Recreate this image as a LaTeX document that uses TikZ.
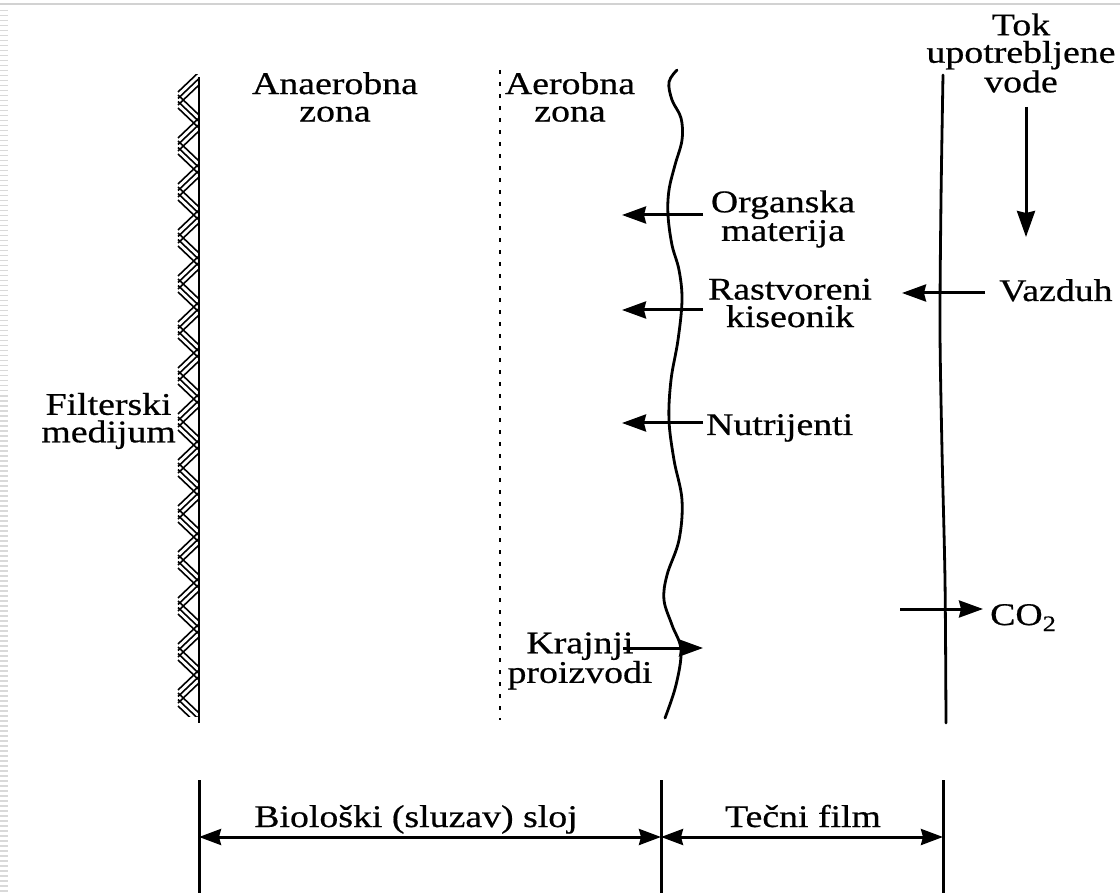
\documentclass[tikz,border=0pt]{standalone}
\usepackage{fontspec}
\setmainfont{Liberation Serif}[FakeStretch=1.2, FakeBold=0.6]
\usetikzlibrary{arrows.meta}

\begin{document}
\begin{tikzpicture}[x=1pt,y=-1pt,
  lbl/.style={font=\fontsize{31.5}{27.5}\selectfont, align=center, inner sep=0pt},
  flow/.style={line width=3pt, -{Stealth[length=24pt,width=17pt,inset=2pt]}},
  dim/.style={line width=3pt, {Stealth[length=22pt,width=16pt,inset=2pt]}-{Stealth[length=22pt,width=16pt,inset=2pt]}},
  wall/.style={line width=2.8pt, line cap=round},
  hatchline/.style={line width=1.6pt},
  tick/.style={line width=3pt}]
\useasboundingbox (0,0) rectangle (1120,893);

% page frame remnants
\draw[gray!35, line width=2.5pt] (0,4) -- (1120,4);
\draw[gray!30, line width=8pt, dash pattern=on 1.5pt off 3.5pt] (4,10) -- (4,893);

% filter medium: hatched wall
\begin{scope}
  \clip (177,75) rectangle (199,716);
  \foreach \k in {0,...,14} {
    \pgfmathsetmacro{\yy}{72+46*\k}
    \foreach \i in {0,1,2} {
      \draw[hatchline] (199,\yy+6.5*\i) -- (178,\yy+6.5*\i+20);
      \draw[hatchline] (178,\yy+23+6.5*\i) -- (199,\yy+23+6.5*\i+20);
    }
  }
\end{scope}
\coordinate (wallTop) at (199,77);
\coordinate (wallBot) at (199,723);
\draw[line width=2.2pt] (wallTop) -- (wallBot);

% boundary between anaerobic and aerobic zones
\coordinate (zoneTop) at (500,70);
\coordinate (zoneBot) at (500,720);
\draw[line width=2.2pt, dash pattern=on 4pt off 8pt] (zoneTop) -- (zoneBot);

% biofilm surface
\draw[wall] plot[smooth, tension=0.6] coordinates {
  (677,70) (669,82) (672,100) (681,118) (682,140) (675,165) (669,190)
  (668,215) (672,245) (679,270) (682,300) (678,340) (671,380) (669,420)
  (674,460) (682,500) (679,540) (667,575) (664,600) (672,625) (681,650)
  (676,685) (665,718)};

% liquid film surface
\draw[wall] plot[smooth] coordinates {
  (943,75) (941,200) (940,330) (942,450) (945,580) (946,723)};

% zone labels
\node[lbl] (anaer) at (335,97) {Anaerobna\\zona};
\node[lbl] (aer) at (570,97) {Aerobna\\zona};
\node[lbl, anchor=east] (filt) at (176,421) {Filterski\\medijum};
\node[lbl] (tok) at (1021,53) {Tok\\upotrebljene\\vode};

% substances crossing the film
\node[lbl] (org) at (783,219) {Organska\\materija};
\node[lbl] (rast) at (790,303) {Rastvoreni\\kiseonik};
\node[lbl, anchor=base west] (nutr) at (706,435) {Nutrijenti};
\node[lbl, anchor=base west] (vaz) at (999,301) {Vazduh};
\node[lbl, anchor=base west] (co2) at (990,625) {CO\textsubscript{2}};
\node[lbl] (kraj) at (580,661) {Krajnji\\proizvodi};

\coordinate (orgS) at (703,215);  \coordinate (orgE) at (622,215);
\coordinate (rastS) at (703,310); \coordinate (rastE) at (622,310);
\coordinate (nutrS) at (703,423); \coordinate (nutrE) at (622,423);
\coordinate (vazS) at (985,293);  \coordinate (vazE) at (902,293);
\coordinate (co2S) at (900,609);  \coordinate (co2E) at (983,609);
\coordinate (krajS) at (623,648); \coordinate (krajE) at (703,648);
\coordinate (tokS) at (1026,107); \coordinate (tokE) at (1026,237);

\draw[flow] (orgS) -- (orgE);
\draw[flow] (rastS) -- (rastE);
\draw[flow] (nutrS) -- (nutrE);
\draw[flow] (vazS) -- (vazE);
\draw[flow] (co2S) -- (co2E);
\draw[flow] (krajS) -- (krajE);
\draw[line width=3pt, -{Stealth[length=26pt,width=18pt,inset=2pt]}] (tokS) -- (tokE);

% layer thickness dimensions
\coordinate (t1a) at (199,780); \coordinate (t1b) at (199,893);
\coordinate (t2a) at (661,780); \coordinate (t2b) at (661,893);
\coordinate (t3a) at (943,780); \coordinate (t3b) at (943,893);
\draw[tick] (t1a) -- (t1b);
\draw[tick] (t2a) -- (t2b);
\draw[tick] (t3a) -- (t3b);
\coordinate (d1) at (199,837);
\coordinate (d2) at (661,837);
\coordinate (d3) at (943,837);
\draw[dim] (d1) -- (d2);
\draw[dim] (d2) -- (d3);
\node[lbl, anchor=base] (bio) at (416,827) {Biološki (sluzav) sloj};
\node[lbl, anchor=base] (tecni) at (803,827) {Tečni film};
\end{tikzpicture}
\end{document}
